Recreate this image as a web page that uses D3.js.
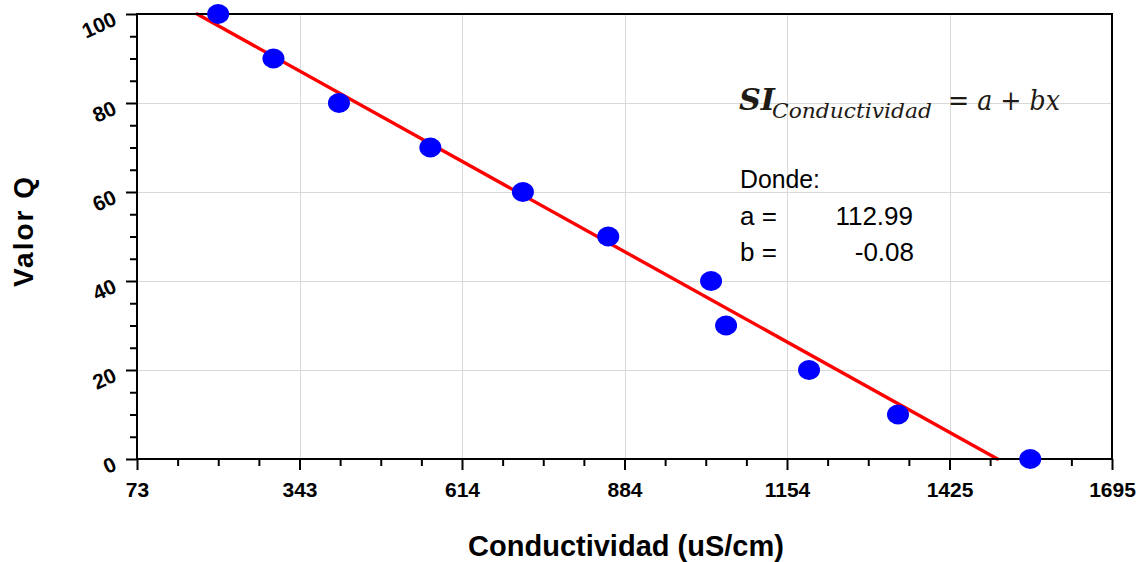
<!DOCTYPE html>
<html>
<head>
<meta charset="utf-8">
<script src="https://cdn.jsdelivr.net/npm/d3@7"></script>
<style>
  html, body { margin: 0; padding: 0; background: #ffffff; }
  svg { display: block; }
</style>
</head>
<body>
<svg id="chart" width="1143" height="562" font-family="Liberation Sans, Arial, sans-serif"></svg>
<script>
// Observed points: conductivity (uS/cm) against quality value Q
const conductividad = [208, 300, 409, 561, 715, 857, 1028, 1053, 1191, 1339, 1559];
const valorQ = [100, 90, 80, 70, 60, 50, 40, 30, 20, 10, 0];

// Linear fit SI = a + b x
const coefA = 112.99;
const coefB = -0.0751;

// Axis extents and tick values
const xDomain = [73, 1695];
const xTickCount = 6;
const yDomain = [0, 100];
const yTicks = [0, 20, 40, 60, 80, 100];
const yMinorStep = 5;

const svg = d3.select("#chart");
const plot = { left: 137, right: 1112, top: 14, bottom: 459 };
const sans = "Liberation Sans, Arial, sans-serif";
const serif = "'DejaVu Serif', 'Liberation Serif', serif";

const x = d3.scaleLinear().domain(xDomain).range([plot.left, plot.right]);
const y = d3.scaleLinear().domain(yDomain).range([plot.bottom, plot.top]);

const xStep = (xDomain[1] - xDomain[0]) / xTickCount;
const xTicks = d3.range(xTickCount + 1).map(i => xDomain[0] + i * xStep);
const xMinor = d3.range(xTickCount * 4 + 1).map(i => xDomain[0] + i * xStep / 4)
  .filter((d, i) => i % 4 !== 0);
const yMinor = d3.range(yDomain[0], yDomain[1] + 0.001, yMinorStep).filter(d => d % 20 !== 0);

// Grid lines
const grid = svg.append("g").attr("stroke", "#d9d9d9").attr("stroke-width", 1);
grid.selectAll(".gx").data(xTicks.slice(1, -1)).join("line")
  .attr("x1", d => Math.round(x(d)) + 0.5).attr("x2", d => Math.round(x(d)) + 0.5)
  .attr("y1", plot.top).attr("y2", plot.bottom);
grid.selectAll(".gy").data(yTicks.slice(1, -1)).join("line")
  .attr("y1", d => Math.round(y(d)) + 0.5).attr("y2", d => Math.round(y(d)) + 0.5)
  .attr("x1", plot.left).attr("x2", plot.right);

// Fitted line between Q = 100 and Q = 0
const fitX = [(100 - coefA) / coefB, (0 - coefA) / coefB];
svg.append("line")
  .attr("x1", x(fitX[0])).attr("y1", y(coefA + coefB * fitX[0]))
  .attr("x2", x(fitX[1])).attr("y2", y(coefA + coefB * fitX[1]))
  .attr("stroke", "#ff0000").attr("stroke-width", 3.4).attr("stroke-linecap", "round");

// Frame
svg.append("rect")
  .attr("x", plot.left).attr("y", plot.top)
  .attr("width", plot.right - plot.left).attr("height", plot.bottom - plot.top)
  .attr("fill", "none").attr("stroke", "#000").attr("stroke-width", 2);

// X axis
const xAxis = d3.axisBottom(x).tickValues(xTicks).tickSize(11).tickPadding(12)
  .tickFormat(d3.format(".0f"));
const gx = svg.append("g").attr("transform", `translate(0,${plot.bottom})`).call(xAxis);
gx.attr("font-family", sans);
gx.select(".domain").remove();
gx.selectAll(".tick line").attr("stroke", "#000").attr("stroke-width", 2);
gx.selectAll(".tick text").attr("font-size", 21).attr("font-weight", "bold").attr("fill", "#000");
const gxm = svg.append("g").attr("transform", `translate(0,${plot.bottom})`)
  .call(d3.axisBottom(x).tickValues(xMinor).tickSize(7).tickFormat(""));
gxm.select(".domain").remove();
gxm.selectAll(".tick line").attr("stroke", "#000").attr("stroke-width", 2);

// Y axis
const yAxis = d3.axisLeft(y).tickValues(yTicks).tickSize(11).tickFormat(d3.format("d"));
const gy = svg.append("g").attr("transform", `translate(${plot.left},0)`).call(yAxis);
gy.attr("font-family", sans);
gy.select(".domain").remove();
gy.selectAll(".tick line").attr("stroke", "#000").attr("stroke-width", 2);
gy.selectAll(".tick text")
  .attr("x", null).attr("dy", null)
  .attr("text-anchor", "end")
  .attr("transform", "translate(-19,10) rotate(-24)")
  .attr("font-size", 21).attr("font-weight", "bold").attr("fill", "#000");
const gym = svg.append("g").attr("transform", `translate(${plot.left},0)`)
  .call(d3.axisLeft(y).tickValues(yMinor).tickSize(7).tickFormat(""));
gym.select(".domain").remove();
gym.selectAll(".tick line").attr("stroke", "#000").attr("stroke-width", 2);

// Points
svg.append("g").selectAll("ellipse").data(valorQ).join("ellipse")
  .attr("cx", (d, i) => x(conductividad[i]))
  .attr("cy", d => y(d))
  .attr("rx", 11).attr("ry", 10)
  .attr("fill", "#0000ff");

// Axis titles
svg.append("text")
  .attr("x", 626).attr("y", 556)
  .attr("text-anchor", "middle")
  .attr("font-size", 29).attr("font-weight", "bold").attr("fill", "#000")
  .text("Conductividad (uS/cm)");
svg.append("text")
  .attr("transform", "translate(33,231) rotate(-90)")
  .attr("text-anchor", "middle")
  .attr("font-size", 28).attr("font-weight", "bold").attr("fill", "#000")
  .attr("letter-spacing", 2)
  .text("Valor Q");

// Equation block
const eq = svg.append("g").attr("fill", "#1e1a14").attr("font-family", serif);
eq.append("text").attr("x", 739).attr("y", 110)
  .attr("font-size", 29).attr("font-weight", "bold").attr("font-style", "italic")
  .attr("textLength", 36).attr("lengthAdjust", "spacingAndGlyphs")
  .text("SI");
eq.append("text").attr("x", 772).attr("y", 118)
  .attr("font-size", 20).attr("font-style", "italic")
  .attr("textLength", 160).attr("lengthAdjust", "spacingAndGlyphs")
  .text("Conductividad");
eq.append("text").attr("x", 948).attr("y", 110)
  .attr("font-size", 27).attr("font-style", "italic")
  .attr("textLength", 112).attr("lengthAdjust", "spacingAndGlyphs")
  .text("= a + bx");

const fmt = d3.formatLocale({ decimal: ".", thousands: ",", grouping: [3], currency: ["", ""], minus: "-" })
  .format(".2f");
const notes = svg.append("g").attr("fill", "#000").attr("font-size", 26).attr("font-family", sans);
notes.append("text").attr("x", 740).attr("y", 188).attr("textLength", 80).attr("lengthAdjust", "spacingAndGlyphs").text("Donde:");
notes.append("text").attr("x", 740).attr("y", 225).text("a =");
notes.append("text").attr("x", 913).attr("y", 225).attr("text-anchor", "end").text(fmt(coefA));
notes.append("text").attr("x", 740).attr("y", 261).text("b =");
notes.append("text").attr("x", 914).attr("y", 261).attr("text-anchor", "end").text(fmt(coefB));
</script>
</body>
</html>
